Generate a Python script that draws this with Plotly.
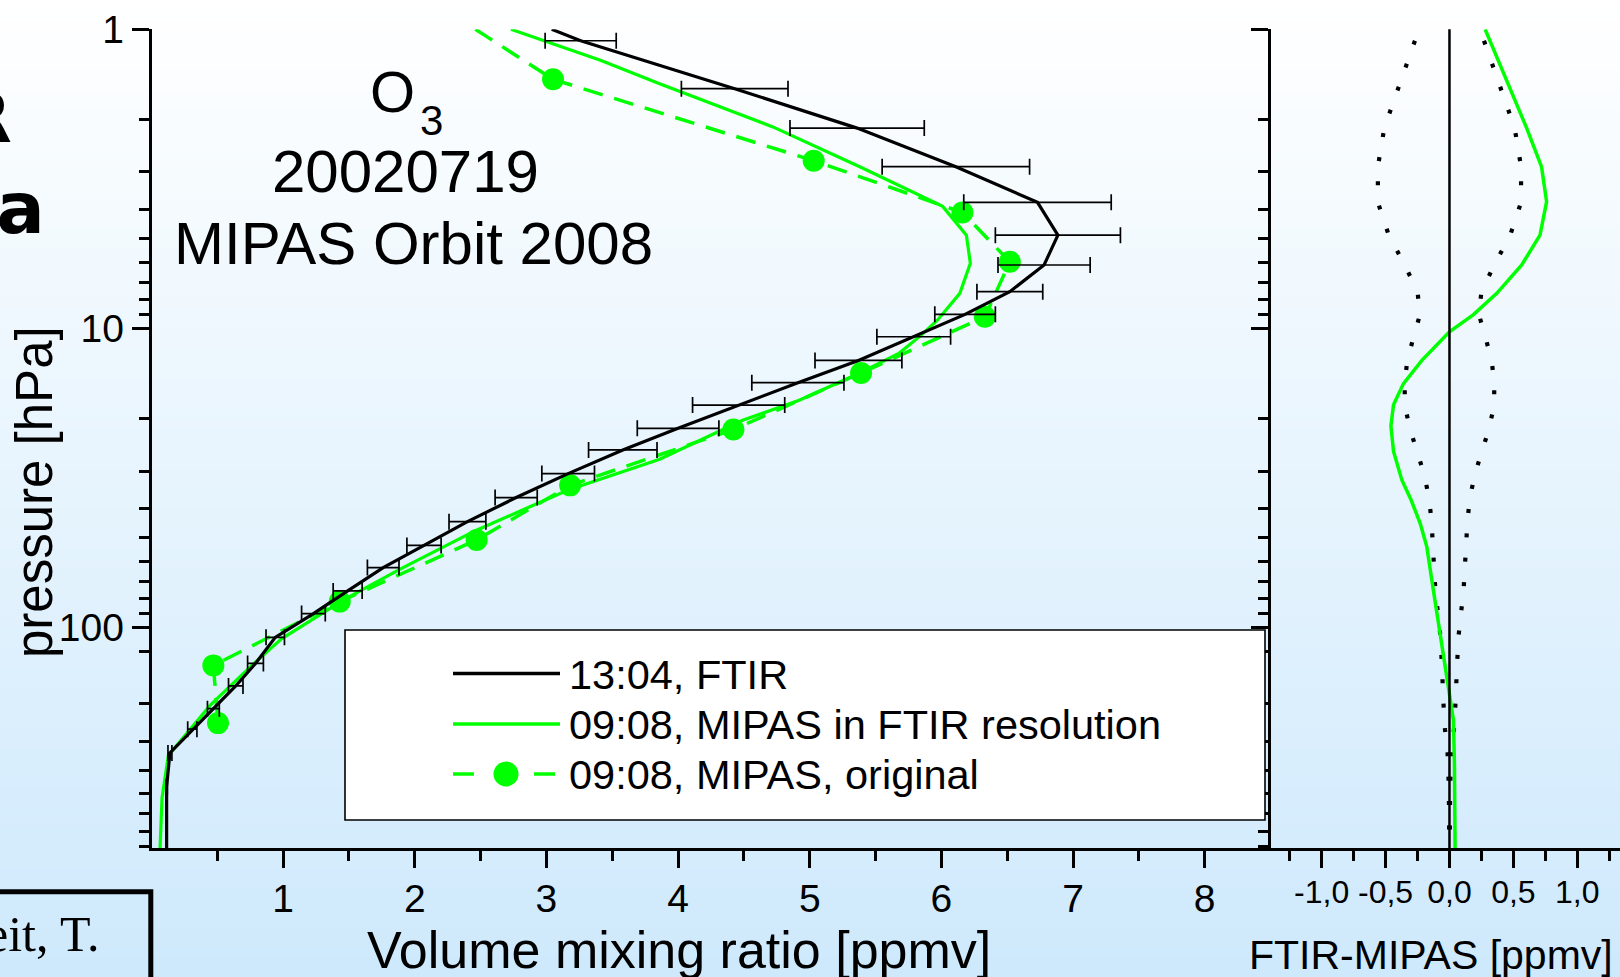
import math
import plotly.graph_objects as go

W, H = 1620, 977
GREEN = "#00ff00"
FONT = "Arial, Liberation Sans, sans-serif"

# ---------------- data (pressure in hPa, mixing ratio in ppmv) ----------------
# FTIR 13:04 profile with its error (error bars)
ftir_p = [1.092, 1.58, 2.14, 2.88, 3.79, 4.88, 6.14, 7.54, 8.98, 10.67, 12.8, 15.2,
          18.05, 21.6, 25.5, 30.6, 36.8, 44.3, 53.2, 63.1, 75.5, 89.9, 108.0, 132.0,
          157.0, 187.0, 219.0, 263.0, 341.0, 548.0]
ftir_vmr = [3.26, 4.43, 5.36, 6.11, 6.73, 6.885, 6.78, 6.52, 6.18, 5.79, 5.37, 4.91,
            4.46, 4.00, 3.58, 3.165, 2.77, 2.40, 2.07, 1.76, 1.49, 1.23, 0.94, 0.79,
            0.64, 0.47, 0.31, 0.14, 0.115, 0.115]
ftir_err = [0.27, 0.405, 0.51, 0.56, 0.56, 0.475, 0.35, 0.25, 0.23, 0.28, 0.33, 0.35,
            0.35, 0.31, 0.26, 0.20, 0.16, 0.14, 0.13, 0.12, 0.11, 0.09, 0.07, 0.06,
            0.055, 0.045, 0.035, 0.015, 0.005, 0.002]
# FTIR line where it enters the frame at the top
ftir_top_p = [1.0, 1.092]
ftir_top_vmr = [3.04, 3.26]

# MIPAS 09:08 smoothed to FTIR resolution
mipas_sm_p = [1.0, 1.1, 1.27, 1.52, 2.12, 2.88, 3.91, 4.88, 6.06, 7.64, 9.39, 10.6,
              12.1, 14.1, 17.4, 20.3, 27.4, 34.8, 47.5, 64.0, 80.5, 109.0, 133.0,
              182.0, 268.0, 372.0, 548.0]
mipas_sm_vmr = [2.73, 3.0, 3.41, 3.86, 4.72, 5.38, 6.01, 6.19, 6.22, 6.14, 5.97, 5.84,
                5.68, 5.38, 4.92, 4.49, 3.86, 3.16, 2.46, 1.885, 1.47, 0.99, 0.77,
                0.447, 0.128, 0.08, 0.065]

# MIPAS 09:08 original retrieval (markers)
mipas_or_p = [1.47, 2.75, 4.10, 5.99, 9.15, 14.1, 21.8, 33.5, 51.0, 82.0, 134.0, 209.0]
mipas_or_vmr = [3.05, 5.03, 6.16, 6.52, 6.33, 5.39, 4.42, 3.18, 2.47, 1.43, 0.47, 0.505]
# dashed line where it enters the frame at the top
mipas_or_top_p = [1.0, 1.47]
mipas_or_top_vmr = [2.46, 3.05]

# Difference FTIR - MIPAS (right panel)
diff_p = [1.0, 1.40, 2.14, 2.88, 3.77, 4.88, 6.14, 7.64, 9.0, 10.27, 12.8, 15.3, 18.0,
          21.2, 25.8, 32.2, 37.5, 44.9, 53.8, 69.5, 89.8, 116.0, 150.0, 204.0, 285.0,
          548.0]
diff_vmr = [0.279, 0.42, 0.604, 0.72, 0.76, 0.708, 0.565, 0.37, 0.1875, 0.0, -0.216,
            -0.36, -0.4375, -0.458, -0.4375, -0.372, -0.30, -0.229, -0.177, -0.138,
            -0.099, -0.06, -0.016, 0.031, 0.039, 0.044]

# axis ticks
x_major = [1, 2, 3, 4, 5, 6, 7, 8]
x_minor = [0.5, 1.5, 2.5, 3.5, 4.5, 5.5, 6.5, 7.5]
d_major = [-1.0, -0.5, 0.0, 0.5, 1.0]
d_labels = ["-1,0", "-0,5", "0,0", "0,5", "1,0"]
d_minor = [-1.25, -0.75, -0.25, 0.25, 0.75, 1.25]
p_major = [1, 10, 100]
p_minor = [2, 3, 4, 5, 6, 7, 8, 9, 20, 30, 40, 50, 60, 70, 80, 90,
           120, 180, 240, 300, 360, 420, 480, 540]
p_bottom = 548.0

# ---------------- geometry helpers (pixels -> paper) ----------------
def px(x):
    return x / W

def py(y):
    return 1 - y / H

X0, X1 = 151.5, 1270.5
Y0, Y1 = 29.3, 848.3

fig = go.Figure()

# ---------------- traces ----------------
fig.add_trace(go.Scatter(x=mipas_sm_vmr, y=mipas_sm_p, mode="lines",
                         line=dict(color=GREEN, width=3.2),
                         name="09:08, MIPAS in FTIR resolution", showlegend=False))
fig.add_trace(go.Scatter(x=mipas_or_top_vmr, y=mipas_or_top_p, mode="lines",
                         line=dict(color=GREEN, width=3.5, dash="20px,12px"),
                         showlegend=False, hoverinfo="skip"))
fig.add_trace(go.Scatter(x=mipas_or_vmr, y=mipas_or_p, mode="lines+markers",
                         line=dict(color=GREEN, width=3.5, dash="20px,12px"),
                         marker=dict(size=22, color=GREEN, line=dict(width=0)),
                         name="09:08, MIPAS, original", showlegend=False))
fig.add_trace(go.Scatter(x=ftir_top_vmr, y=ftir_top_p, mode="lines",
                         line=dict(color="black", width=3.2),
                         showlegend=False, hoverinfo="skip"))
fig.add_trace(go.Scatter(x=ftir_vmr, y=ftir_p, mode="lines",
                         line=dict(color="black", width=3.2),
                         error_x=dict(type="data", array=ftir_err, symmetric=True,
                                      color="black", thickness=1.7, width=8),
                         name="13:04, FTIR", showlegend=False))

# right panel: +/- FTIR error (dotted) and difference
fig.add_trace(go.Scatter(x=ftir_err, y=ftir_p, xaxis="x2", yaxis="y2", mode="lines",
                         line=dict(color="black", width=4.2, dash="4px,20.4px"),
                         showlegend=False))
fig.add_trace(go.Scatter(x=[-e for e in ftir_err], y=ftir_p, xaxis="x2", yaxis="y2",
                         mode="lines",
                         line=dict(color="black", width=4.2, dash="4px,20.4px"),
                         showlegend=False))
fig.add_trace(go.Scatter(x=diff_vmr, y=diff_p, xaxis="x2", yaxis="y2", mode="lines",
                         line=dict(color=GREEN, width=3.5), showlegend=False))

# ---------------- axes ----------------
LW = 2.5
base = dict(showline=True, linecolor="black", linewidth=LW, showgrid=False,
            zeroline=False, tickcolor="black", tickwidth=LW, automargin=False)
yrange = [math.log10(p_bottom), 0]
ydom = [py(Y1), py(Y0)]
tf_main = dict(family=FONT, size=39, color="black")
tf_diff = dict(family=FONT, size=32, color="black")

def minor(vals, direction, length):
    return dict(tickmode="array", tickvals=vals, ticks=direction, ticklen=length,
                tickwidth=LW, tickcolor="black", showgrid=False)

fig.update_layout(
    xaxis=dict(base, domain=[px(X0), px(X1)], range=[0, 8.5], anchor="y",
               tickmode="array", tickvals=x_major, ticktext=[str(v) for v in x_major],
               ticks="outside", ticklen=17, tickfont=tf_main, ticklabelstandoff=-3,
               minor=minor(x_minor, "outside", 10)),
    xaxis3=dict(base, overlaying="x", side="top", anchor="y", range=[0, 8.5],
                tickmode="array", tickvals=x_major, ticks="inside", ticklen=17,
                showticklabels=False, minor=minor(x_minor, "inside", 10)),
    yaxis=dict(base, domain=ydom, type="log", range=yrange, anchor="x",
               tickmode="array", tickvals=p_major, ticktext=[str(v) for v in p_major],
               ticks="outside", ticklen=17, tickfont=tf_main,
               minor=minor(p_minor, "outside", 10)),
    xaxis2=dict(base, domain=[px(X1), 1.0], range=[-1.4, 1.334], anchor="y2",
                tickmode="array", tickvals=d_major, ticktext=d_labels,
                ticks="outside", ticklen=17, tickfont=tf_diff, ticklabelstandoff=-3,
                minor=minor(d_minor, "outside", 10)),
    xaxis4=dict(base, overlaying="x2", side="top", anchor="y2", range=[-1.4, 1.334],
                tickmode="array", tickvals=d_major, ticks="inside", ticklen=17,
                showticklabels=False, minor=minor(d_minor, "inside", 10)),
    yaxis2=dict(base, domain=ydom, type="log", range=yrange, anchor="x2",
                tickmode="array", tickvals=p_major, ticks="outside", ticklen=17,
                showticklabels=False, minor=minor(p_minor, "outside", 10)),
    yaxis4=dict(base, overlaying="y2", side="right", anchor="x2", type="log",
                range=yrange, showline=False, tickmode="array", tickvals=p_major,
                ticks="inside", ticklen=9, showticklabels=False,
                minor=minor(p_minor, "inside", 3)),
)

# ---------------- shapes ----------------
shapes = []
# background gradient (white -> light blue)
NB = 98
for i in range(NB):
    t = (i + 0.5) / NB
    r = round(255 + (206 - 255) * t)
    g = round(255 + (233 - 255) * t)
    b = round(255 + (252 - 255) * t)
    shapes.append(dict(type="rect", xref="paper", yref="paper", layer="below",
                       x0=0, x1=1, y0=1 - (i + 1) / NB - 0.002, y1=1 - i / NB,
                       line=dict(width=0), fillcolor=f"rgb({r},{g},{b})"))
# zero line of difference panel
shapes.append(dict(type="line", xref="x2", yref="y2 domain", x0=0, x1=0, y0=0, y1=1,
                   line=dict(color="black", width=2.5), layer="above"))
# legend box and samples
LX0, LX1 = 453, 560
rows = [673.5, 724.0, 774.0]
shapes.append(dict(type="rect", xref="paper", yref="paper", layer="above",
                   x0=px(345), x1=px(1265), y0=py(820), y1=py(630),
                   fillcolor="white", line=dict(color="black", width=1.6)))
shapes.append(dict(type="line", xref="paper", yref="paper", layer="above",
                   x0=px(LX0), x1=px(LX1), y0=py(rows[0]), y1=py(rows[0]),
                   line=dict(color="black", width=3.5)))
shapes.append(dict(type="line", xref="paper", yref="paper", layer="above",
                   x0=px(LX0), x1=px(LX1), y0=py(rows[1]), y1=py(rows[1]),
                   line=dict(color=GREEN, width=3.5)))
for a, b2 in [(453, 474), (534, 555)]:
    shapes.append(dict(type="line", xref="paper", yref="paper", layer="above",
                       x0=px(a), x1=px(b2), y0=py(rows[2]), y1=py(rows[2]),
                       line=dict(color=GREEN, width=3.5)))
shapes.append(dict(type="circle", xref="paper", yref="paper", layer="above",
                   x0=px(506 - 12.5), x1=px(506 + 12.5), y0=py(774 + 12.5), y1=py(774 - 12.5),
                   fillcolor=GREEN, line=dict(width=0)))
# bottom-left framed box (cut off by the image)
shapes.append(dict(type="rect", xref="paper", yref="paper", layer="above",
                   x0=px(-20), x1=px(150.8), y0=py(1000), y1=py(891.8),
                   line=dict(color="black", width=5)))

# ---------------- annotations ----------------
def ann(text, x, y, size, xanchor="center", yanchor="middle", angle=0, family=FONT,
        bold=False, pad=1):
    if bold:
        text = "<b>" + text + "</b>"
    return dict(text=text, x=px(x), y=py(y), xref="paper", yref="paper", showarrow=False,
                xanchor=xanchor, yanchor=yanchor, textangle=angle, borderpad=pad,
                font=dict(family=family, size=size, color="black"))

anns = [
    ann("O", 416.0, 91.7, 58, xanchor="right", pad=0),
    ann("3", 418.5, 120.4, 42, xanchor="left", pad=0),
    ann("20020719", 405, 171.6, 60),
    ann("MIPAS Orbit 2008", 413.4, 243.2, 60),
    ann("pressure [hPa]", 35.0, 492, 51, angle=-90),
    ann("Volume mixing ratio [ppmv]", 678.8, 949.8, 52),
    ann("FTIR-MIPAS [ppmv]", 1431, 955, 41),
    ann("13:04, FTIR", 567, rows[0] + 1, 41.5, xanchor="left"),
    ann("09:08, MIPAS in FTIR resolution", 567, rows[1] + 0.5, 41.5, xanchor="left"),
    ann("09:08, MIPAS, original", 567, rows[2] + 0.5, 41.5, xanchor="left"),
    ann("R", 14, 117.8, 70, xanchor="right", family="DejaVu Sans", bold=True),
    ann("na", 47, 208.4, 72, xanchor="right", family="DejaVu Sans", bold=True),
    ann("eit, T.", 101, 933.8, 50, xanchor="right",
        family="Liberation Serif, Times New Roman, serif"),
]

fig.update_layout(
    template="none",
    width=W, height=H,
    margin=dict(l=0, r=0, t=0, b=0, pad=0, autoexpand=False),
    paper_bgcolor="white", plot_bgcolor="rgba(0,0,0,0)",
    showlegend=False,
    shapes=shapes, annotations=anns,
)

fig.write_html("out.html", config={"displayModeBar": False},
               post_script="document.body.style.margin='0px';")
